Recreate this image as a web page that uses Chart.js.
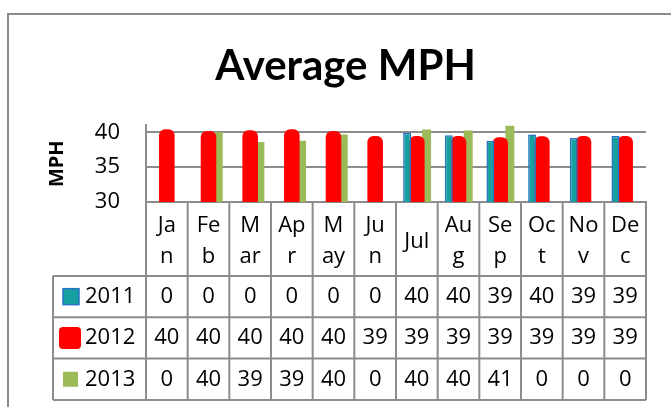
<!DOCTYPE html>
<html lang="en">
<head>
<meta charset="UTF-8">
<title>Average MPH</title>
<script src="https://cdn.jsdelivr.net/npm/chart.js@4.4.0/dist/chart.umd.min.js"></script>
<style>
    body { margin:0; background:#fff; }
    #wrap { width:671px; height:407px; }
</style>
</head>
<body>
<div id="wrap"><canvas id="myChart"></canvas></div>
<script>
    // data (table shows the rounded values)
    var v_months = [["Ja","n"],["Fe","b"],["M","ar"],["Ap","r"],["M","ay"],["Ju","n"],"Jul",["Au","g"],["Se","p"],["Oc","t"],["No","v"],["De","c"]];
    var v_2011 = [0, 0, 0, 0, 0, 0, 39.9, 39.6, 38.8, 39.7, 39.2, 39.48];
    var v_2012 = [40.45, 40.2, 40.3, 40.45, 40.2, 39.48, 39.49, 39.49, 39.3, 39.45, 39.49, 39.49];
    var v_2013 = [0, 40.0, 38.6, 38.8, 39.7, 0, 40.4, 40.25, 41.0, 0, 0, 0];
    var v_yTicks = [30, 35, 40];

    var v_gray = "#8c8c8c";
    var v_font = "'Open Sans', sans-serif";

    // frame + data table under the x axis
    const tablePlugin = {
        id: "tablePlugin",
        beforeDraw(chart) {
            const c = chart.ctx;
            c.save();
            c.fillStyle = "#fff";
            c.fillRect(0, 0, chart.width, chart.height);
            c.strokeStyle = v_gray;
            c.lineWidth = 2;
            c.beginPath();
            c.moveTo(8, chart.height);
            c.lineTo(8, 14);
            c.lineTo(chart.width, 14);
            c.stroke();
            c.restore();
        },
        afterDraw(chart) {
            const c = chart.ctx, xs = chart.scales.x, area = chart.chartArea;
            const half = (xs.getPixelForValue(1) - xs.getPixelForValue(0)) / 2;
            const top = area.bottom + 74, rowH = 41.3, legLeft = 53;
            const x0 = xs.getPixelForValue(0) - half;
            const right = xs.getPixelForValue(11) + half;
            c.save();
            c.strokeStyle = v_gray;
            c.lineWidth = 2;
            c.beginPath();
            for (let r = 0; r <= 3; r++) {
                c.moveTo(legLeft, top + r * rowH);
                c.lineTo(right, top + r * rowH);
            }
            c.moveTo(legLeft, top);
            c.lineTo(legLeft, top + 3 * rowH);
            for (let i = 0; i <= 12; i++) {
                const x = x0 + i * 2 * half;
                c.moveTo(x, area.bottom);
                c.lineTo(x, top + 3 * rowH);
            }
            c.stroke();

            c.font = "22px " + v_font;
            c.textBaseline = "middle";
            chart.data.datasets.forEach(function(ds, r) {
                const cy = top + r * rowH + rowH / 2;
                // legend key
                if (r == 0) {
                    c.fillStyle = ds.backgroundColor;
                    c.fillRect(63, cy - 8, 16, 16);
                    c.strokeStyle = ds.borderColor;
                    c.lineWidth = 1.5;
                    c.strokeRect(63, cy - 8, 16, 16);
                } else if (r == 1) {
                    c.fillStyle = ds.backgroundColor;
                    c.beginPath();
                    c.roundRect(59, cy - 11, 22, 22, 4);
                    c.fill();
                } else {
                    c.fillStyle = ds.backgroundColor;
                    c.fillRect(63, cy - 7.5, 15, 15);
                }
                c.fillStyle = "#000";
                c.textAlign = "left";
                c.fillText(ds.label, 85, cy);
                c.textAlign = "center";
                ds.data.forEach(function(v, i) {
                    c.fillText(String(Math.round(v)), xs.getPixelForValue(i), cy);
                });
            });
            c.restore();
        }
    };

    const ctx = document.getElementById('myChart').getContext('2d');
    const myChart = new Chart(ctx, {
        type: 'bar',
        data: {
            labels: v_months,
            datasets: [{
                label: '2011',
                data: v_2011,
                backgroundColor: "#17A0A0",
                borderColor: "#2673C4",
                borderWidth: 1.5,
                barPercentage: 0.82,
                categoryPercentage: 0.7
            },
            {
                label: '2012',
                data: v_2012,
                backgroundColor: "#FF0000",
                borderRadius: 6,
                barPercentage: 1.6,
                categoryPercentage: 0.7
            },
            {
                label: '2013',
                data: v_2013,
                backgroundColor: "#9BBB59",
                barPercentage: 0.92,
                categoryPercentage: 0.7
            }]
        },
        options: {
            responsive: true,
            maintainAspectRatio: false,
            animation: false,
            layout: { padding: { left: 45, right: 25, top: 0, bottom: 131 } },
            plugins: {
                legend: { display: false },
                tooltip: { enabled: false },
                title: {
                    display: true,
                    text: 'Average MPH',
                    color: '#000',
                    font: { family: "Lato, sans-serif", size: 42, weight: 'bold' },
                    padding: { top: 41, bottom: 34 }
                }
            },
            scales: {
                x: {
                    offset: true,
                    grid: { display: false },
                    border: { display: true, color: v_gray, width: 2 },
                    ticks: {
                        color: '#000',
                        font: { family: v_font, size: 22, lineHeight: 31 / 22 },
                        maxRotation: 0,
                        autoSkip: false,
                        crossAlign: 'center',
                        padding: 16
                    },
                    afterFit(s) { s.height = 74; }
                },
                y: {
                    min: 30,
                    max: 41,
                    afterBuildTicks(s) { s.ticks = v_yTicks.map(function(v) { return { value: v }; }); },
                    grid: { color: v_gray, lineWidth: 2, drawTicks: false },
                    border: { display: true, color: v_gray, width: 2 },
                    ticks: { color: '#000', font: { family: v_font, size: 22 }, padding: 26 },
                    title: {
                        display: true,
                        text: 'MPH',
                        color: '#000',
                        font: { family: v_font, size: 20, weight: 'bold' },
                        padding: 0
                    },
                    afterFit(s) { s.width = 101; }
                }
            }
        },
        plugins: [tablePlugin]
    });
</script>
</body>
</html>
